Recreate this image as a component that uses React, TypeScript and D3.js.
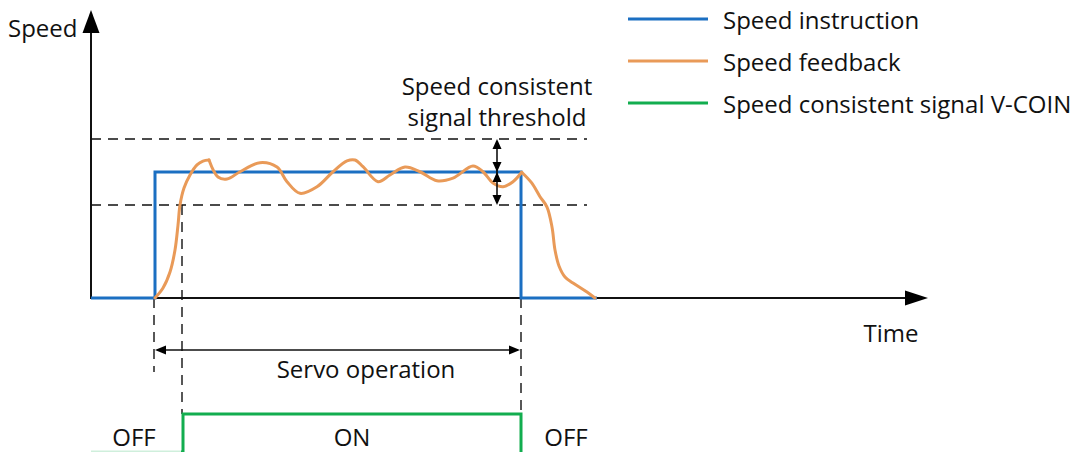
import React from "react";
import * as d3 from "d3";

// ---- data (time in ms-like units, speed in % of command) ----
const commandTimes = [0, 64, 64, 430, 430, 506];
const commandSpeeds = [0, 0, 100, 100, 0, 0];

const feedbackRise = [
  [64, 0], [72, 7.9], [79, 20.6], [84, 38.1], [87, 57.9], [89, 73.8], [93, 87.3],
  [99, 97.6], [106, 105.6], [112, 108.7], [118, 109.5],
];
const feedbackRun = [
  [118, 109.5], [127, 96.0], [136, 94.4], [149, 100.2], [169, 107.4], [186, 103.9],
  [196, 92.3], [209, 83.1], [226, 88.3], [242, 100.2], [256, 108.8], [264, 109.5],
  [272, 104.2], [287, 92.3], [299, 97.6], [314, 103.9], [329, 100.2], [346, 93.1],
  [362, 95.2], [382, 104.8], [392, 100.2], [402, 91.3], [412, 88.3], [422, 92.3],
  [430.7, 99.8],
];
const feedbackFall = [
  [430.7, 99.8], [440.7, 91.3], [449, 80.4], [456, 72.2], [461, 56.3], [464, 38.1],
  [468, 25.4], [474, 16.7], [482, 11.9], [496, 4.8], [504, 0],
];

const commandLevel = 100;
const thresholdBand = 26.2;
const thresholdEnd = 496;
const markerTimes = [63, 91, 430];
const coinOnStart = 92;
const coinOnEnd = 430;
const timeAxisEnd = 837;
const speedAxisTop = 228.6;

const legendItems = [
  { label: "Speed instruction", color: "#1b6fc2" },
  { label: "Speed feedback", color: "#e99a58" },
  { label: "Speed consistent signal V-COIN", color: "#12ad4f" },
];

const FONT = "'Open Sans', 'Noto Sans', sans-serif";
const FS = 24;

export default function App() {
  const x = d3.scaleLinear().domain([0, timeAxisEnd]).range([91, 928]);
  const y = d3.scaleLinear().domain([0, commandLevel]).range([298, 172]);

  const stepLine = d3
    .line<number>()
    .x((_, i) => x(commandTimes[i]))
    .y((d) => y(d));
  const smooth = d3
    .line<number[]>()
    .x((d) => x(d[0]))
    .y((d) => y(d[1]))
    .curve(d3.curveCatmullRom.alpha(0.5));

  const yUp = y(commandLevel + thresholdBand);
  const yLo = y(commandLevel - thresholdBand);
  const yCmd = y(commandLevel);
  const y0 = y(0);
  const xArr = x(406);

  const arrowDown = (cx: number, tipY: number) =>
    `M${cx - 4.5},${tipY - 10}L${cx + 4.5},${tipY - 10}L${cx},${tipY}Z`;
  const arrowUp = (cx: number, tipY: number) =>
    `M${cx - 4.5},${tipY + 10}L${cx + 4.5},${tipY + 10}L${cx},${tipY}Z`;

  const greenY = 414;
  const servoY = 350;

  return (
    <svg
      width={1080}
      height={452}
      style={{ position: "absolute", left: 0, top: 0, background: "#fff" }}
      fontFamily={FONT}
    >
      {/* threshold dashed lines */}
      {[yUp, yLo].map((yy, i) => (
        <line key={i} x1={x(0)} x2={x(thresholdEnd)} y1={yy} y2={yy}
          stroke="#111" strokeWidth={1.4} strokeDasharray="10,7" />
      ))}

      {/* axes */}
      <line x1={x(0)} x2={x(0)} y1={y0 + 1} y2={y(speedAxisTop) + 20} stroke="#111" strokeWidth={2} />
      <path d={`M${x(0) - 8.5},${y(speedAxisTop) + 23}L${x(0) + 8.5},${y(speedAxisTop) + 23}L${x(0)},${y(speedAxisTop)}Z`} fill="#000" />
      <line x1={x(0)} x2={x(timeAxisEnd) - 20} y1={y0} y2={y0} stroke="#111" strokeWidth={2} />
      <path d={`M${x(timeAxisEnd) - 23},${y0 - 7.5}L${x(timeAxisEnd) - 23},${y0 + 7.5}L${x(timeAxisEnd)},${y0}Z`} fill="#000" />

      {/* vertical dashed markers */}
      <line x1={x(markerTimes[0])} x2={x(markerTimes[0])} y1={y0} y2={372} stroke="#111" strokeWidth={1.4} strokeDasharray="10,7" />
      <line x1={x(markerTimes[1])} x2={x(markerTimes[1])} y1={yLo} y2={greenY} stroke="#111" strokeWidth={1.4} strokeDasharray="10,7" />
      <line x1={x(markerTimes[2])} x2={x(markerTimes[2])} y1={y0} y2={greenY} stroke="#111" strokeWidth={1.4} strokeDasharray="10,7" />

      {/* command */}
      <path d={stepLine(commandSpeeds) || ""} fill="none" stroke={legendItems[0].color} strokeWidth={3} />

      {/* feedback */}
      {[feedbackRise, feedbackRun, feedbackFall].map((seg, i) => (
        <path key={i} d={smooth(seg) || ""} fill="none" stroke={legendItems[1].color}
          strokeWidth={3} strokeLinecap="round" strokeLinejoin="round" />
      ))}

      {/* threshold double arrows */}
      <line x1={xArr} x2={xArr} y1={yUp + 2} y2={yLo - 2} stroke="#111" strokeWidth={1.6} />
      <path d={arrowUp(xArr, yUp)} fill="#000" />
      <path d={arrowDown(xArr, yCmd)} fill="#000" />
      <path d={arrowUp(xArr, yCmd)} fill="#000" />
      <path d={arrowDown(xArr, yLo)} fill="#000" />
      <text x={xArr} y={95} textAnchor="middle" fontSize={FS} fill="#111">Speed consistent</text>
      <text x={xArr} y={126} textAnchor="middle" fontSize={FS} fill="#111">signal threshold</text>

      {/* servo operation */}
      <line x1={x(markerTimes[0]) + 3} x2={x(markerTimes[2]) - 3} y1={servoY} y2={servoY} stroke="#111" strokeWidth={1.4} />
      <path d={`M${x(markerTimes[0]) + 1},${servoY}L${x(markerTimes[0]) + 12},${servoY - 4.5}L${x(markerTimes[0]) + 12},${servoY + 4.5}Z`} fill="#000" />
      <path d={`M${x(markerTimes[2]) - 1},${servoY}L${x(markerTimes[2]) - 12},${servoY - 4.5}L${x(markerTimes[2]) - 12},${servoY + 4.5}Z`} fill="#000" />
      <text x={366} y={378} textAnchor="middle" fontSize={FS} fill="#111">Servo operation</text>

      {/* V-COIN signal */}
      <path
        d={`M${x(0)},452L${x(coinOnStart)},452L${x(coinOnStart)},${greenY}L${x(coinOnEnd)},${greenY}L${x(coinOnEnd)},455`}
        fill="none" stroke={legendItems[2].color} strokeWidth={3} />
      <path d={`M${x(0)},451.5L${x(coinOnStart) - 2},451.5`} stroke="#fff" strokeOpacity={0.8} strokeWidth={3} />
      <text x={134} y={446} textAnchor="middle" fontSize={FS} fill="#111">OFF</text>
      <text x={352} y={446} textAnchor="middle" fontSize={FS} fill="#111">ON</text>
      <text x={566} y={446} textAnchor="middle" fontSize={FS} fill="#111">OFF</text>

      {/* axis labels */}
      <text x={8} y={37} fontSize={FS} fill="#111">Speed</text>
      <text x={891} y={342} textAnchor="middle" fontSize={FS} fill="#111">Time</text>

      {/* legend */}
      {legendItems.map((it, i) => {
        const ly = [19, 61, 103][i];
        return (
          <g key={it.label}>
            <line x1={628} x2={708} y1={ly} y2={ly} stroke={it.color} strokeWidth={3} />
            <text x={723} y={ly + 10} fontSize={FS} fill="#111">{it.label}</text>
          </g>
        );
      })}
    </svg>
  );
}
